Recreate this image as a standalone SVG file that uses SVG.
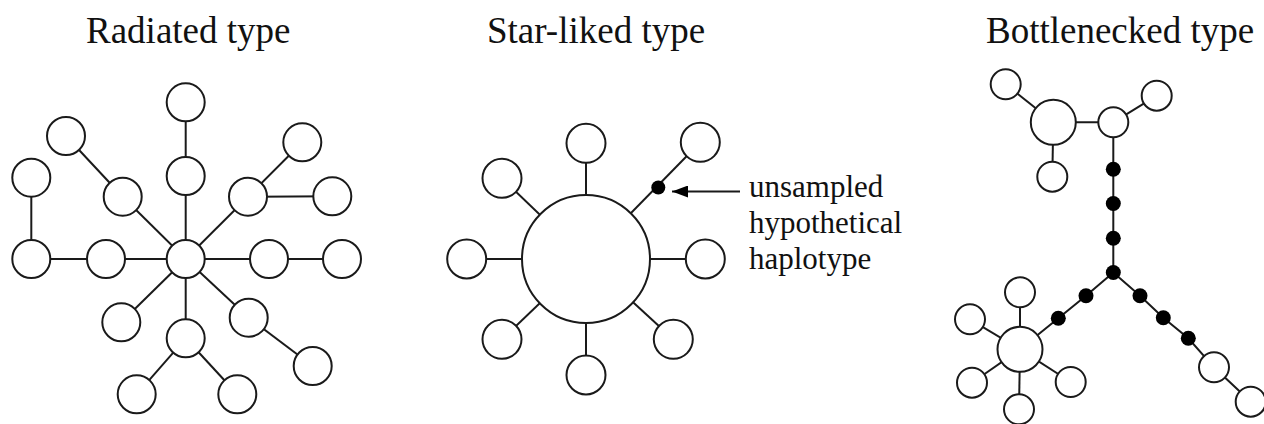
<svg xmlns="http://www.w3.org/2000/svg" width="1264" height="424" viewBox="0 0 1264 424">
  <defs>
    <style>
      .edge { stroke: #1a1a1a; stroke-width: 2; fill: none; }
      .hap { fill: #ffffff; stroke: #1a1a1a; stroke-width: 2; }
      .mv { fill: #000000; }
      .title { font-family: "Liberation Serif", "Times New Roman", serif; font-size: 37px; fill: #111111; }
      .note { font-family: "Liberation Serif", "Times New Roman", serif; font-size: 31px; fill: #111111; }
    </style>
    <marker id="arrowhead" viewBox="0 0 16 12" refX="16" refY="6" markerWidth="16" markerHeight="12" markerUnits="userSpaceOnUse" orient="auto">
      <path d="M0,0 L16,6 L0,12 Z" fill="#000000"/>
    </marker>
  </defs>
  <rect width="1264" height="424" fill="#ffffff"/>

  <!-- titles -->
  <text class="title" x="86" y="43">Radiated type</text>
  <text class="title" x="487" y="43">Star-liked type</text>
  <text class="title" x="986" y="43">Bottlenecked type</text>

  <!-- connectors -->
  <g id="connectors">
    <!-- radiated network -->
    <line class="edge" x1="185.7" y1="102.3" x2="185.7" y2="176"/>
    <line class="edge" x1="185.7" y1="176" x2="185.7" y2="259"/>
    <line class="edge" x1="66" y1="136" x2="122.7" y2="196.7"/>
    <line class="edge" x1="122.7" y1="196.7" x2="185.7" y2="259"/>
    <line class="edge" x1="31.3" y1="177.7" x2="31.3" y2="259"/>
    <line class="edge" x1="31.3" y1="259" x2="106" y2="259"/>
    <line class="edge" x1="106" y1="259" x2="185.7" y2="259"/>
    <line class="edge" x1="185.7" y1="259" x2="248" y2="196.7"/>
    <line class="edge" x1="248" y1="196.7" x2="302.3" y2="142.3"/>
    <line class="edge" x1="248" y1="196.7" x2="332.3" y2="196.3"/>
    <line class="edge" x1="185.7" y1="259" x2="269" y2="259"/>
    <line class="edge" x1="269" y1="259" x2="342" y2="259"/>
    <line class="edge" x1="185.7" y1="259" x2="121.3" y2="322.3"/>
    <line class="edge" x1="185.7" y1="259" x2="185.7" y2="338.3"/>
    <line class="edge" x1="185.7" y1="259" x2="248.7" y2="317.7"/>
    <line class="edge" x1="248.7" y1="317.7" x2="312.7" y2="366"/>
    <line class="edge" x1="185.7" y1="338.3" x2="136.7" y2="394.3"/>
    <line class="edge" x1="185.7" y1="338.3" x2="237.3" y2="394.3"/>

    <!-- star-like network -->
    <line class="edge" x1="586" y1="259" x2="586" y2="143.3"/>
    <line class="edge" x1="586" y1="259" x2="700.3" y2="142.3"/>
    <line class="edge" x1="586" y1="259" x2="502" y2="178.3"/>
    <line class="edge" x1="586" y1="259" x2="466.7" y2="259"/>
    <line class="edge" x1="586" y1="259" x2="705.3" y2="259"/>
    <line class="edge" x1="586" y1="259" x2="502" y2="339.3"/>
    <line class="edge" x1="586" y1="259" x2="586" y2="375"/>
    <line class="edge" x1="586" y1="259" x2="673.3" y2="339.3"/>
    <line class="edge" x1="740" y1="191.5" x2="672" y2="191.5" marker-end="url(#arrowhead)"/>

    <!-- bottlenecked network -->
    <line class="edge" x1="1005.7" y1="84.3" x2="1053.3" y2="122.3"/>
    <line class="edge" x1="1053.3" y1="122.3" x2="1052.3" y2="176.7"/>
    <line class="edge" x1="1053.3" y1="122.3" x2="1113.3" y2="122.3"/>
    <line class="edge" x1="1113.3" y1="122.3" x2="1156.7" y2="95.7"/>
    <line class="edge" x1="1113.3" y1="122.3" x2="1113.3" y2="272.5"/>
    <polyline class="edge" points="1113.3,272.5 1086,295.7 1058.3,318.3 1020,349.3"/>
    <line class="edge" x1="1020" y1="349.3" x2="1020" y2="292.3"/>
    <line class="edge" x1="1020" y1="349.3" x2="970" y2="319.3"/>
    <line class="edge" x1="1020" y1="349.3" x2="972" y2="382.7"/>
    <line class="edge" x1="1020" y1="349.3" x2="1019" y2="409.3"/>
    <line class="edge" x1="1020" y1="349.3" x2="1070.7" y2="382"/>
    <polyline class="edge" points="1113.3,272.5 1140,295.7 1163.3,317.7 1188.3,338.3 1214,367.3 1250.7,401.7"/>
  </g>

  <!-- radiated type haplotypes -->
  <g id="rad-top"><circle class="hap" cx="185.7" cy="102.3" r="19"/></g>
  <g id="rad-upper"><circle class="hap" cx="185.7" cy="176" r="19"/></g>
  <g id="rad-ul-outer"><circle class="hap" cx="66" cy="136" r="19"/></g>
  <g id="rad-ul-inner"><circle class="hap" cx="122.7" cy="196.7" r="19"/></g>
  <g id="rad-left-top"><circle class="hap" cx="31.3" cy="177.7" r="19"/></g>
  <g id="rad-left-outer"><circle class="hap" cx="31.3" cy="259" r="19"/></g>
  <g id="rad-left-inner"><circle class="hap" cx="106" cy="259" r="19"/></g>
  <g id="rad-center"><circle class="hap" cx="185.7" cy="259" r="19"/></g>
  <g id="rad-ur-inner"><circle class="hap" cx="248" cy="196.7" r="19"/></g>
  <g id="rad-ur-outer"><circle class="hap" cx="302.3" cy="142.3" r="19"/></g>
  <g id="rad-ur-side"><circle class="hap" cx="332.3" cy="196.3" r="19"/></g>
  <g id="rad-right-inner"><circle class="hap" cx="269" cy="259" r="19"/></g>
  <g id="rad-right-outer"><circle class="hap" cx="342" cy="259" r="19"/></g>
  <g id="rad-ll"><circle class="hap" cx="121.3" cy="322.3" r="19"/></g>
  <g id="rad-lower"><circle class="hap" cx="185.7" cy="338.3" r="19"/></g>
  <g id="rad-lr-inner"><circle class="hap" cx="248.7" cy="317.7" r="19"/></g>
  <g id="rad-lr-outer"><circle class="hap" cx="312.7" cy="366" r="19"/></g>
  <g id="rad-bottom-left"><circle class="hap" cx="136.7" cy="394.3" r="19"/></g>
  <g id="rad-bottom-right"><circle class="hap" cx="237.3" cy="394.3" r="19"/></g>

  <!-- star-like type haplotypes -->
  <g id="star-center"><circle class="hap" cx="586" cy="259" r="64"/></g>
  <g id="star-top"><circle class="hap" cx="586" cy="143.3" r="19.5"/></g>
  <g id="star-ur"><circle class="hap" cx="700.3" cy="142.3" r="19.5"/></g>
  <g id="star-missing"><circle class="mv" cx="658.3" cy="187.5" r="7"/></g>
  <g id="star-ul"><circle class="hap" cx="502" cy="178.3" r="19.5"/></g>
  <g id="star-left"><circle class="hap" cx="466.7" cy="259" r="19.5"/></g>
  <g id="star-right"><circle class="hap" cx="705.3" cy="259" r="19.5"/></g>
  <g id="star-ll"><circle class="hap" cx="502" cy="339.3" r="19.5"/></g>
  <g id="star-bottom"><circle class="hap" cx="586" cy="375" r="19.5"/></g>
  <g id="star-lr"><circle class="hap" cx="673.3" cy="339.3" r="19.5"/></g>
  <g id="star-note">
    <text class="note" x="749" y="197">unsampled</text>
    <text class="note" x="749" y="233">hypothetical</text>
    <text class="note" x="749" y="269">haplotype</text>
  </g>

  <!-- bottlenecked type haplotypes -->
  <g id="bn-top-big"><circle class="hap" cx="1053.3" cy="122.3" r="22.5"/></g>
  <g id="bn-top-left"><circle class="hap" cx="1005.7" cy="84.3" r="15"/></g>
  <g id="bn-top-below"><circle class="hap" cx="1052.3" cy="176.7" r="15"/></g>
  <g id="bn-top-mid"><circle class="hap" cx="1113.3" cy="122.3" r="15"/></g>
  <g id="bn-top-right"><circle class="hap" cx="1156.7" cy="95.7" r="15"/></g>
  <g id="bn-mv-1"><circle class="mv" cx="1113.3" cy="169.3" r="7.5"/></g>
  <g id="bn-mv-2"><circle class="mv" cx="1113.3" cy="203.5" r="7.5"/></g>
  <g id="bn-mv-3"><circle class="mv" cx="1113.3" cy="238.3" r="7.5"/></g>
  <g id="bn-mv-junction"><circle class="mv" cx="1113.3" cy="272.5" r="7.5"/></g>
  <g id="bn-mv-4"><circle class="mv" cx="1086" cy="295.7" r="7.5"/></g>
  <g id="bn-mv-5"><circle class="mv" cx="1058.3" cy="318.3" r="7.5"/></g>
  <g id="bn-mv-6"><circle class="mv" cx="1140" cy="295.7" r="7.5"/></g>
  <g id="bn-mv-7"><circle class="mv" cx="1163.3" cy="317.7" r="7.5"/></g>
  <g id="bn-mv-8"><circle class="mv" cx="1188.3" cy="338.3" r="7.5"/></g>
  <g id="bn-low-big"><circle class="hap" cx="1020" cy="349.3" r="22.5"/></g>
  <g id="bn-low-top"><circle class="hap" cx="1020" cy="292.3" r="15"/></g>
  <g id="bn-low-ul"><circle class="hap" cx="970" cy="319.3" r="15"/></g>
  <g id="bn-low-ll"><circle class="hap" cx="972" cy="382.7" r="15"/></g>
  <g id="bn-low-bottom"><circle class="hap" cx="1019" cy="409.3" r="15"/></g>
  <g id="bn-low-lr"><circle class="hap" cx="1070.7" cy="382" r="15"/></g>
  <g id="bn-right-1"><circle class="hap" cx="1214" cy="367.3" r="15"/></g>
  <g id="bn-right-2"><circle class="hap" cx="1250.7" cy="401.7" r="15"/></g>
</svg>
